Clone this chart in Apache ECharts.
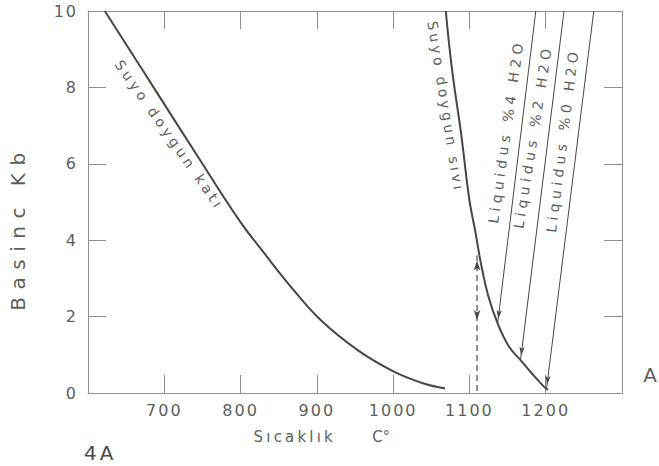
<!DOCTYPE html>
<html>
<head>
<meta charset="utf-8">
<script src="https://cdn.jsdelivr.net/npm/echarts@6/dist/echarts.min.js"></script>
<style>
  html, body { margin: 0; padding: 0; background: #fff; }
  #chart { width: 659px; height: 466px; }
</style>
</head>
<body>
<div id="chart"></div>
<script>
// --- values (°C, Kb) ---
const solidusT = [622, 686, 750, 799, 831, 866, 905, 953, 1001, 1040, 1068];
const solidusP = [10, 8, 6, 4.5, 3.66, 2.78, 1.91, 1.13, 0.56, 0.25, 0.12];
const liquidT = [1069, 1077, 1089, 1100, 1108, 1115, 1125, 1137, 1152, 1167, 1182, 1197, 1203];
const liquidP = [10, 8.5, 6.8, 5.05, 4.2, 3.4, 2.52, 1.82, 1.21, 0.86, 0.51, 0.18, 0.08];
const liq4 = [[1137, 1.82], [1187, 10]];
const liq2 = [[1167, 0.86], [1224, 10]];
const liq0 = [[1201, 0.1], [1263, 10]];
const dropT = 1110;
const dropP = [0.05, 1.78, 3.6];
const xTicks = [700, 800, 900, 1000, 1100, 1200];
const yTicks = [0, 2, 4, 6, 8, 10];

// curve captions, anchored in data units
const captions = ['Suyo doygun katı', 'Suyo doygun sıvı', 'Liquidus %4 H2O', 'Liquidus %2 H2O', 'Liquidus %0 H2O'];
const captionAt = [[707, 6.75], [1069, 7.49], [1148, 6.85], [1183, 6.71], [1222, 6.62]];
const captionAngle = [-55, -81, 82, 81, 83];

const ink = '#464646';
const frame = '#8f8f8f';
const txt = '#5e5e5e';
const font = '"DejaVu Sans", sans-serif';

// hand lettering on the original is widely spaced
const spacing = {
    'Basinc Kb': 7.5, 'Sıcaklık': 3.2, 'C': 0, '°': 0, '4A': 3, 'A': 0,
    'Suyo doygun katı': 3.6, 'Suyo doygun sıvı': 3.4,
    'Liquidus %4 H2O': 4.4, 'Liquidus %2 H2O': 4.4, 'Liquidus %0 H2O': 4.4
};
function spaceLetters() {
    document.querySelectorAll('#chart text').forEach(el => {
        const s = spacing[el.textContent.trim()];
        el.style.letterSpacing = (s != null ? s : 2) + 'px';
    });
}

const chart = echarts.init(document.getElementById('chart'), null, { renderer: 'svg' });
chart.on('rendered', spaceLetters);

function frameX(pos, labels) {
    return {
        type: 'value', position: pos, min: 600, max: 1300, interval: 100,
        axisLine: { onZero: false, lineStyle: { color: frame, width: 1 } },
        axisTick: { inside: true, length: 18, lineStyle: { color: frame } },
        splitLine: { show: false },
        axisLabel: labels ? {
            margin: 10, fontSize: 16, lineHeight: 14, color: txt, fontFamily: font,
            formatter: v => xTicks.includes(v) ? String(v) : ''
        } : { show: false }
    };
}
function frameY(pos, labels) {
    return {
        type: 'value', position: pos, min: 0, max: 10, interval: 2,
        axisLine: { onZero: false, lineStyle: { color: frame, width: 1 } },
        axisTick: { inside: true, length: 18, lineStyle: { color: frame } },
        splitLine: { show: false },
        axisLabel: labels ? {
            margin: 10, fontSize: 16, color: txt, fontFamily: font,
            formatter: v => yTicks.includes(v) ? String(v) : ''
        } : { show: false }
    };
}

function liquidus(points) {
    return {
        type: 'line', data: [
            { value: points[0], symbolRotate: 173, symbolOffset: [0.5, -4.5] },
            { value: points[1], symbol: 'none' }
        ],
        symbol: 'arrow', symbolSize: [4, 9],
        itemStyle: { color: ink },
        lineStyle: { color: ink, width: 1 }, silent: true
    };
}

const xAxisMain = frameX('bottom', true);
xAxisMain.name = '{t|Sıcaklık}{c|C}{d|°}';
xAxisMain.nameLocation = 'middle';
xAxisMain.nameGap = 36;
xAxisMain.nameTextStyle = {
    padding: [0, 54, 0, 0],
    rich: {
        t: { fontSize: 15, color: txt, fontFamily: font },
        c: { fontSize: 15, color: txt, fontFamily: font, padding: [0, 0, 0, 49] },
        d: { fontSize: 14, color: txt, fontFamily: font, verticalAlign: 'top' }
    }
};
const yAxisMain = frameY('left', true);
yAxisMain.name = 'Basinc Kb';
yAxisMain.nameLocation = 'middle';
yAxisMain.nameRotate = 90;
yAxisMain.nameGap = 60;
yAxisMain.nameTextStyle = { fontSize: 20, color: txt, fontFamily: font, padding: [0, 52, 0, 0] };

chart.setOption({
    animation: false,
    backgroundColor: '#fff',
    title: {
        text: '4A', left: 84, top: 443, padding: 0,
        textStyle: { fontSize: 20, color: '#4a4a4a', fontWeight: 'normal', fontFamily: font }
    },
    grid: { left: 86, right: 37, top: 11, bottom: 73 },
    xAxis: [xAxisMain, frameX('top', false)],
    yAxis: [yAxisMain, frameY('right', false)],
    series: [
        {
            type: 'line', data: solidusT.map((t, i) => [t, solidusP[i]]),
            smooth: 0.4, symbol: 'none', lineStyle: { color: ink, width: 2 }, silent: true
        },
        {
            type: 'line', data: liquidT.map((t, i) => [t, liquidP[i]]),
            smooth: 0.4, symbol: 'none', lineStyle: { color: ink, width: 2 }, silent: true
        },
        liquidus(liq4),
        liquidus(liq2),
        liquidus(liq0),
        {
            type: 'line',
            data: [
                { value: [dropT, dropP[0]], symbol: 'none' },
                { value: [dropT, dropP[1]], symbolRotate: 180, symbolOffset: [0, -5] },
                { value: [dropT, dropP[2]], symbolOffset: [0, 5] }
            ],
            symbol: 'arrow', symbolSize: [5, 10],
            itemStyle: { color: ink },
            lineStyle: { color: ink, width: 1.2, type: [6, 4] }, silent: true
        }
    ]
});

// captions along the curves + the loose letter on the right
const toPx = p => chart.convertToPixel({ gridIndex: 0 }, p);
const textEl = (text, x, y, rot, size) => ({
    type: 'text', x, y, rotation: rot * Math.PI / 180, silent: true,
    style: {
        text, fill: txt, fontSize: size, fontFamily: font,
        align: 'center', verticalAlign: 'middle',
        textAlign: 'center', textVerticalAlign: 'middle'
    }
});
const graphic = captions.map((c, i) => {
    const [x, y] = toPx(captionAt[i]);
    return textEl(c, x, y, captionAngle[i], 14);
});
graphic.push(textEl('A', 650, 375, 0, 20));
chart.setOption({ graphic });
spaceLetters();
</script>
</body>
</html>
